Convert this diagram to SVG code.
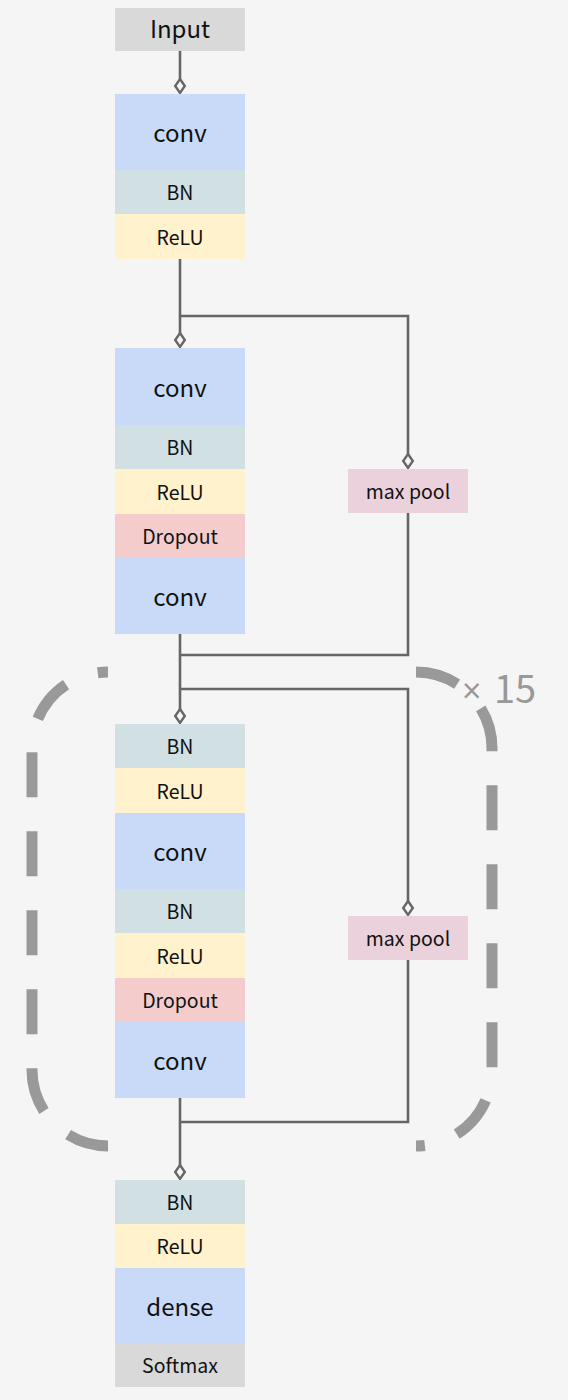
<svg xmlns="http://www.w3.org/2000/svg" width="568" height="1400" viewBox="0 0 568 1400">
<defs>
<style>
.t{font-family:"Noto Sans CJK SC","Open Sans",sans-serif;fill:#111;text-anchor:middle}
.s{font-size:19.5px}
.l{font-size:24px}
.conv{fill:#c9daf8}.bn{fill:#d0e0e3}.relu{fill:#fff2cc}.drop{fill:#f4cccc}.grey{fill:#d9d9d9}.pool{fill:#ead1dc}
.c{fill:none;stroke:#666;stroke-width:2.6}
.d{fill:#f5f5f5;stroke:#666;stroke-width:2.4}
.rep{fill:none;stroke:#999;stroke-width:11;stroke-dasharray:45 34}
</style>
</defs>
<rect width="568" height="1400" fill="#f5f5f5"/>

<g id="repeat">
<path class="rep" style="stroke-dashoffset:34.6" d="M108,672 A76,76 0 0 0 32,748 L32,1070 A76,76 0 0 0 108,1146"/>
<path class="rep" style="stroke-dashoffset:1.6" d="M416,672 A76,76 0 0 1 492,748 L492,1070 A76,76 0 0 1 416,1146"/>
<text x="462" y="703" style="font-family:'Noto Sans CJK SC','Open Sans',sans-serif;font-size:38px;fill:#999"><tspan style="font-family:'Open Sans',sans-serif;font-size:34px">×</tspan><tspan x="494">15</tspan></text>
</g>

<g id="connectors">
<path class="c" d="M180,51 V79"/>
<path class="d" d="M180,79 L184.8,86 L180,93 L175.2,86 Z"/>
<path class="c" d="M180,259 V333"/>
<path class="d" d="M180,333 L184.8,340 L180,347 L175.2,340 Z"/>
<path class="c" d="M180,316 H408 V454"/>
<path class="d" d="M408,454 L412.8,461 L408,468 L403.2,461 Z"/>
<path class="c" d="M408,513 V655 H180"/>
<path class="c" d="M180,634 V709"/>
<path class="d" d="M180,709 L184.8,716 L180,723 L175.2,716 Z"/>
<path class="c" d="M180,689 H408 V901"/>
<path class="d" d="M408,901 L412.8,908 L408,915 L403.2,908 Z"/>
<path class="c" d="M408,960 V1122 H180"/>
<path class="c" d="M180,1098 V1165"/>
<path class="d" d="M180,1165 L184.8,1172 L180,1179 L175.2,1172 Z"/>
</g>

<g id="input"><rect class="grey" x="115" y="8" width="130" height="43"/><text class="t l" x="180" y="38">Input</text></g>

<g id="conv1"><rect class="conv" x="115" y="94" width="130" height="76"/><text class="t l" x="180" y="142">conv</text></g>
<g id="bn1"><rect class="bn" x="115" y="170" width="130" height="44"/><text class="t s" x="180" y="200">BN</text></g>
<g id="relu1"><rect class="relu" x="115" y="214" width="130" height="45"/><text class="t s" x="180" y="245">ReLU</text></g>

<g id="conv2"><rect class="conv" x="115" y="348" width="130" height="77"/><text class="t l" x="180" y="397">conv</text></g>
<g id="bn2"><rect class="bn" x="115" y="425" width="130" height="44"/><text class="t s" x="180" y="455">BN</text></g>
<g id="relu2"><rect class="relu" x="115" y="469" width="130" height="45"/><text class="t s" x="180" y="500">ReLU</text></g>
<g id="dropout2"><rect class="drop" x="115" y="514" width="130" height="44"/><text class="t s" x="180" y="544">Dropout</text></g>
<g id="conv3"><rect class="conv" x="115" y="558" width="130" height="76"/><text class="t l" x="180" y="606">conv</text></g>
<g id="maxpool1"><rect class="pool" x="348" y="469" width="120" height="44"/><text class="t s" x="408" y="499">max pool</text></g>

<g id="bn3"><rect class="bn" x="115" y="724" width="130" height="44"/><text class="t s" x="180" y="754">BN</text></g>
<g id="relu3"><rect class="relu" x="115" y="768" width="130" height="45"/><text class="t s" x="180" y="799">ReLU</text></g>
<g id="conv4"><rect class="conv" x="115" y="813" width="130" height="76"/><text class="t l" x="180" y="861">conv</text></g>
<g id="bn4"><rect class="bn" x="115" y="889" width="130" height="44"/><text class="t s" x="180" y="919">BN</text></g>
<g id="relu4"><rect class="relu" x="115" y="933" width="130" height="45"/><text class="t s" x="180" y="964">ReLU</text></g>
<g id="dropout4"><rect class="drop" x="115" y="978" width="130" height="44"/><text class="t s" x="180" y="1008">Dropout</text></g>
<g id="conv5"><rect class="conv" x="115" y="1022" width="130" height="76"/><text class="t l" x="180" y="1070">conv</text></g>
<g id="maxpool2"><rect class="pool" x="348" y="916" width="120" height="44"/><text class="t s" x="408" y="946">max pool</text></g>

<g id="bn5"><rect class="bn" x="115" y="1180" width="130" height="44"/><text class="t s" x="180" y="1210">BN</text></g>
<g id="relu5"><rect class="relu" x="115" y="1224" width="130" height="44"/><text class="t s" x="180" y="1254">ReLU</text></g>
<g id="dense"><rect class="conv" x="115" y="1268" width="130" height="76"/><text class="t l" x="180" y="1316">dense</text></g>
<g id="softmax"><rect class="grey" x="115" y="1344" width="130" height="43"/><text class="t s" x="180" y="1373">Softmax</text></g>
</svg>
